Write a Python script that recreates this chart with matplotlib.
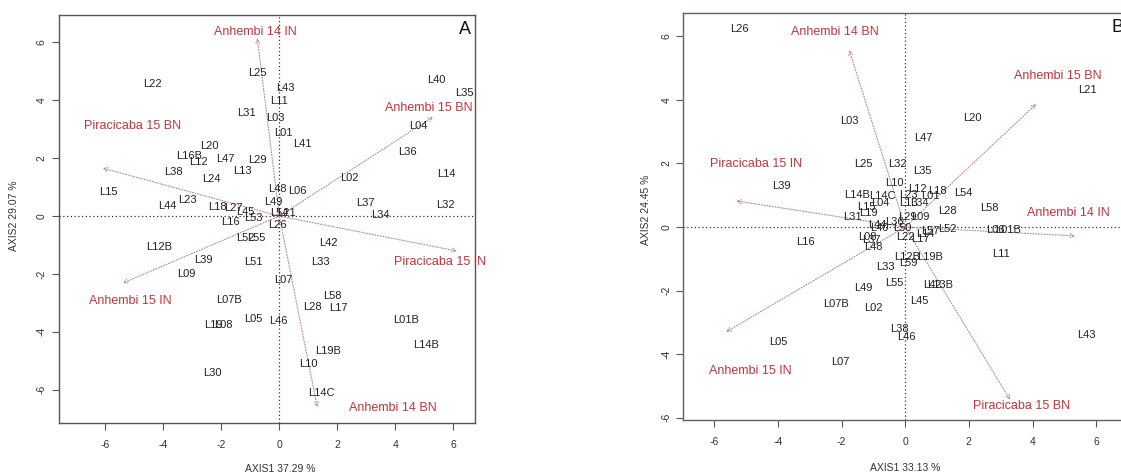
import matplotlib.pyplot as plt

plt.rcParams['font.family'] = ['Liberation Sans', 'DejaVu Sans']

# ---- panel A: genotype scores ----
gen_a = ["L22", "L25", "L31", "L20", "L16B", "L12", "L47", "L29", "L38", "L13",
         "L24", "L15", "L23", "L44", "L18", "L27", "L45", "L16", "L53", "L43",
         "L11", "L03", "L01", "L41", "L40", "L35", "L04", "L36", "L14", "L02",
         "L48", "L06", "L49", "L37", "L32", "L34", "L54", "L21", "L26", "L42",
         "L33", "L51", "L07", "L58", "L28", "L17", "L05", "L46", "L01B", "L14B",
         "L19B", "L10", "L14C", "L12B", "L39", "L09", "L07B", "L19", "L08", "L30",
         "L52", "L55"]
x_a = [-4.38, -0.76, -1.14, -2.41, -3.10, -2.79, -1.86, -0.76, -3.66, -1.28,
       -2.34, -5.90, -3.17, -3.86, -2.14, -1.59, -1.17, -1.69, -0.90, 0.21,
       0.00, -0.14, 0.14, 0.79, 5.41, 6.38, 4.79, 4.41, 5.76, 2.41,
       -0.07, 0.62, -0.21, 2.97, 5.72, 3.48, 0.00, 0.25, -0.07, 1.69,
       1.41, -0.90, 0.14, 1.83, 1.14, 2.03, -0.90, -0.03, 4.38, 5.07,
       1.69, 1.00, 1.45, -4.14, -2.62, -3.21, -1.72, -2.28, -1.93, -2.31,
       -1.17, -0.79]
y_a = [4.57, 4.95, 3.56, 2.42, 2.08, 1.87, 1.97, 1.94, 1.52, 1.56,
       1.28, 0.83, 0.55, 0.35, 0.31, 0.28, 0.14, -0.20, -0.07, 4.43,
       3.98, 3.39, 2.87, 2.49, 4.71, 4.26, 3.11, 2.21, 1.45, 1.31,
       0.93, 0.87, 0.48, 0.45, 0.38, 0.03, 0.10, 0.10, -0.31, -0.93,
       -1.59, -1.59, -2.21, -2.77, -3.15, -3.18, -3.56, -3.63, -3.60, -4.46,
       -4.67, -5.12, -6.12, -1.07, -1.52, -2.00, -2.91, -3.77, -3.77, -5.43,
       -0.76, -0.76]

# ---- panel A: environment vectors ----
env_a = ["Anhembi 14 IN", "Piracicaba 15 BN", "Anhembi 15 BN",
         "Piracicaba 15 IN", "Anhembi 14 BN", "Anhembi 15 IN"]
tip_x_a = [-0.76, -6.10, 5.31, 6.14, 1.31, -5.41]
tip_y_a = [6.16, 1.66, 3.43, -1.21, -6.61, -2.32]
lab_x_a = [-0.83, -5.07, 5.14, 5.55, 3.93, -5.14]
lab_y_a = [6.37, 3.11, 3.74, -1.59, -6.64, -2.94]

# ---- panel B: genotype scores ----
gen_b = ["L26", "L03", "L25", "L39", "L32", "L35", "L10", "L12", "L18", "L01",
         "L54", "L23", "L13", "L34", "L14B", "L14C", "L04", "L28", "L31", "L15",
         "L19", "L29", "L09", "L44", "L40", "L36", "L50", "L22", "L17", "L14",
         "L57", "L52", "L08", "L37", "L48", "L12B", "L19B", "L59", "L33", "L55",
         "L49", "L42", "L13B", "L45", "L07B", "L02", "L38", "L46", "L16", "L05",
         "L07", "L43", "L11", "L06", "L01B", "L21", "L20", "L47", "L58"]
x_b = [-5.22, -1.76, -1.32, -3.90, -0.25, 0.53, -0.35, 0.38, 1.00, 0.79,
       1.82, 0.09, 0.09, 0.44, -1.51, -0.72, -0.79, 1.32, -1.67, -1.23,
       -1.16, 0.06, 0.47, -0.88, -0.82, -0.35, -0.09, 0.00, 0.47, 0.63,
       0.79, 1.32, -1.19, -1.05, -1.00, 0.06, 0.79, 0.09, -0.63, -0.35,
       -1.32, 0.85, 1.10, 0.44, -2.17, -1.00, -0.19, 0.03, -3.14, -3.99,
       -2.04, 5.69, 3.02, 2.83, 3.24, 5.72, 2.11, 0.57, 2.64]
y_b = [6.23, 3.33, 1.98, 1.29, 1.98, 1.76, 1.38, 1.19, 1.13, 0.97,
       1.07, 1.00, 0.75, 0.75, 1.00, 0.97, 0.75, 0.50, 0.31, 0.63,
       0.44, 0.31, 0.31, 0.06, -0.03, 0.16, -0.03, -0.31, -0.38, -0.22,
       -0.13, -0.06, -0.31, -0.40, -0.63, -0.94, -0.94, -1.13, -1.26, -1.76,
       -1.92, -1.82, -1.82, -2.33, -2.42, -2.55, -3.21, -3.46, -0.47, -3.62,
       -4.25, -3.40, -0.85, -0.09, -0.09, 4.31, 3.43, 2.80, 0.60]

# ---- panel B: environment vectors ----
env_b = ["Anhembi 14 BN", "Piracicaba 15 IN", "Anhembi 15 BN",
         "Anhembi 14 IN", "Piracicaba 15 BN", "Anhembi 15 IN"]
tip_x_b = [-1.76, -5.31, 4.12, 5.35, 3.30, -5.63]
tip_y_b = [5.57, 0.82, 3.87, -0.28, -5.44, -3.30]
lab_x_b = [-2.20, -4.69, 4.78, 5.13, 3.65, -4.87]
lab_y_b = [6.13, 1.98, 4.75, 0.44, -5.63, -4.53]

ticks = [-6, -4, -2, 0, 2, 4, 6]


def biplot(ax, gen, gx, gy, env, tx, ty, lx, ly, letter, frame_col, ypad):
    ax.axhline(0, color="#333333", ls=(0, (1, 2)), lw=0.9, zorder=1)
    ax.axvline(0, color="#333333", ls=(0, (1, 2)), lw=0.9, zorder=1)
    for name, x, y in zip(gen, gx, gy):
        ax.text(x, y, name, ha="center", va="center", fontsize=8,
                color="#222222", zorder=3)
    for name, x, y, px, py in zip(env, tx, ty, lx, ly):
        ax.annotate("", xy=(x, y), xytext=(0, 0),
                    arrowprops=dict(arrowstyle="->", color="#c08a8a",
                                    lw=0.8, ls=(0, (1, 1.5)),
                                    shrinkA=0, shrinkB=0,
                                    mutation_scale=7), zorder=2)
        ax.text(px, py, name, ha="center", va="center", fontsize=9,
                color="#c8323c", zorder=3)
    ax.text(0.99, 0.985, letter, transform=ax.transAxes, ha="right",
            va="top", fontsize=13, color="#111111")
    ax.set_xticks(ticks)
    ax.set_yticks(ticks)
    ax.set_xticklabels([str(t) for t in ticks], fontsize=7.5)
    ax.set_yticklabels([str(t) for t in ticks], fontsize=7.5,
                       rotation=90, va="center")
    ax.tick_params(direction="out", length=5, width=0.8, colors="#555555",
                   labelcolor="#333333")
    ax.tick_params(axis="x", pad=7)
    ax.tick_params(axis="y", pad=ypad)
    for sp in ax.spines.values():
        sp.set_color(frame_col)
        sp.set_linewidth(1.0)


fig = plt.figure(figsize=(11.21, 4.75), dpi=100)

ax_a = fig.add_axes([59 / 1121, 1 - 423 / 475, (475 - 59) / 1121, (423 - 15) / 475])
biplot(ax_a, gen_a, x_a, y_a, env_a, tip_x_a, tip_y_a, lab_x_a, lab_y_a,
       "A", "#555555", 4)
ax_a.set_xlim(-7.6, 6.75)
ax_a.set_ylim(-7.15, 6.95)

ax_b = fig.add_axes([683 / 1121, 1 - 420 / 475, (1128 - 683) / 1121, (420 - 13) / 475])
biplot(ax_b, gen_b, x_b, y_b, env_b, tip_x_b, tip_y_b, lab_x_b, lab_y_b,
       "B", "#5a665a", 3)
ax_b.set_xlim(-6.98, 7.0)
ax_b.set_ylim(-6.07, 6.73)

fig.text(280 / 1121, 1 - 469 / 475, "AXIS1 37.29 %", ha="center", va="center",
         fontsize=7.5, color="#333333")
fig.text(14 / 1121, 1 - 216 / 475, "AXIS2 29.07 %", ha="center", va="center",
         fontsize=7.5, color="#333333", rotation=90)
fig.text(905 / 1121, 1 - 468 / 475, "AXIS1 33.13 %", ha="center", va="center",
         fontsize=7.5, color="#333333")
fig.text(646 / 1121, 1 - 210 / 475, "AXIS2 24.45 %", ha="center", va="center",
         fontsize=7.5, color="#333333", rotation=90)

fig.savefig("out.png", dpi=100)
plt.close(fig)
